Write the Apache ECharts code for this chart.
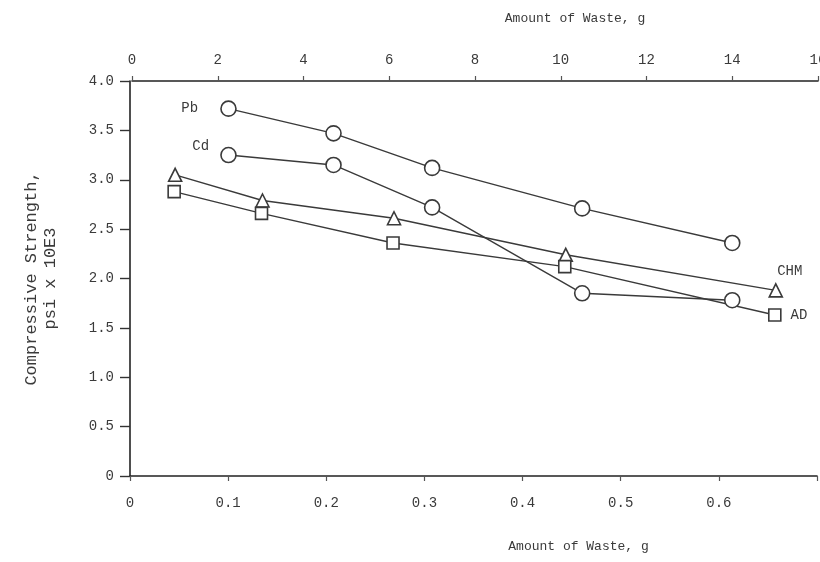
<!DOCTYPE html>
<html>
<head>
<meta charset="utf-8">
<script src="https://cdn.jsdelivr.net/npm/echarts@6/dist/echarts.min.js"></script>
<style>html,body{margin:0;padding:0;background:#fff}#c{width:820px;height:562px}</style>
</head>
<body>
<div id="c"></div>
<script>
// Upper scale (g), used by Pb and Cd
var topTicks = [0, 2, 4, 6, 8, 10, 12, 14, 16];
// Lower scale (g), used by CHM and AD
var bottomTicks = [0, 0.1, 0.2, 0.3, 0.4, 0.5, 0.6, 0.7];
var yTicks = [0, 0.5, 1.0, 1.5, 2.0, 2.5, 3.0, 3.5, 4.0];

var pbX = [2.25, 4.7, 7.0, 10.5, 14.0];
var pbY = [3.72, 3.47, 3.12, 2.71, 2.36];
var cdX = [2.25, 4.7, 7.0, 10.5, 14.0];
var cdY = [3.25, 3.15, 2.72, 1.85, 1.78];
var chmX = [0.046, 0.135, 0.269, 0.444, 0.658];
var chmY = [3.05, 2.79, 2.61, 2.24, 1.88];
var adX = [0.045, 0.134, 0.268, 0.443, 0.657];
var adY = [2.88, 2.66, 2.36, 2.12, 1.63];

var seriesNames = ['Pb', 'Cd', 'CHM', 'AD'];

function pairs(xs, ys) { return xs.map(function (x, i) { return [x, ys[i]]; }); }

var ink = '#3a3a3a';
var font = 'Liberation Mono';

var chart = echarts.init(document.getElementById('c'));

function mkSeries(name, xs, ys, gIdx, symbol, size, labelIdx, labelPos, labelOffset) {
  var data = pairs(xs, ys).map(function (p, i) {
    var d = { value: p };
    if (i === labelIdx) {
      d.label = { show: true, formatter: name, position: labelPos, offset: labelOffset,
        color: ink, fontFamily: font, fontSize: 14 };
    }
    return d;
  });
  return {
    name: name, type: 'line', xAxisIndex: gIdx, yAxisIndex: gIdx, data: data,
    symbol: symbol, symbolSize: size, showSymbol: true,
    lineStyle: { color: ink, width: 1.4 },
    itemStyle: { color: '#fff', borderColor: ink, borderWidth: 1.6 },
    label: { show: false },
    z: 3
  };
}

chart.setOption({
  animation: false,
  backgroundColor: '#fff',
  grid: [
    { left: 130, right: 3, top: 81, bottom: 86, outerBoundsMode: 'none', containLabel: false },
    { left: 132, right: 2, top: 81, bottom: 86, outerBoundsMode: 'none', containLabel: false }
  ],
  xAxis: [
    {
      gridIndex: 0, type: 'value', position: 'bottom', min: 0, max: 0.7, interval: 0.1,
      name: 'Amount of Waste, g', nameLocation: 'middle', nameGap: 64,
      nameTextStyle: { color: ink, fontFamily: font, fontSize: 13, padding: [0, 0, 0, 210] },
      axisLine: { show: true, onZero: false, lineStyle: { color: '#222', width: 1.6 } },
      axisTick: { show: true, inside: false, length: 5, lineStyle: { color: '#555', width: 1.2 } },
      axisLabel: { color: ink, fontFamily: font, fontSize: 14, margin: 20,
        formatter: function (v) { return v === 0 ? '0' : (Math.abs(v - 0.7) < 1e-6 ? '' : v.toFixed(1)); } },
      splitLine: { show: false }
    },
    {
      gridIndex: 1, type: 'value', position: 'top', min: 0, max: 16, interval: 2,
      name: 'Amount of Waste, g', nameLocation: 'middle', nameGap: 56,
      nameTextStyle: { color: ink, fontFamily: font, fontSize: 13, padding: [0, 0, 0, 200] },
      axisLine: { show: true, onZero: false, lineStyle: { color: '#222', width: 1.6 } },
      axisTick: { show: true, inside: false, length: 5, lineStyle: { color: '#555', width: 1.2 } },
      axisLabel: { color: ink, fontFamily: font, fontSize: 14, margin: 14 },
      splitLine: { show: false }
    }
  ],
  yAxis: [
    {
      gridIndex: 0, type: 'value', min: 0, max: 4, interval: 0.5,
      name: 'Compressive Strength,\npsi x 10E3', nameLocation: 'middle', nameGap: 70,
      nameRotate: 90,
      nameTextStyle: { color: ink, fontFamily: font, fontSize: 17, lineHeight: 19 },
      axisLine: { show: true, onZero: false, lineStyle: { color: '#222', width: 1.6 } },
      axisTick: { show: true, inside: false, length: 10, lineStyle: { color: '#333', width: 1.4 } },
      axisLabel: { color: ink, fontFamily: font, fontSize: 14, margin: 16,
        formatter: function (v) { return v === 0 ? '0' : v.toFixed(1); } },
      splitLine: { show: false }
    },
    {
      gridIndex: 1, type: 'value', min: 0, max: 4, interval: 0.5, show: false
    }
  ],
  series: [
    mkSeries(seriesNames[0], pbX, pbY, 1, 'circle', 15, 0, 'left', [-17, 0]),
    mkSeries(seriesNames[1], cdX, cdY, 1, 'circle', 15, 0, 'left', [-6, -9]),
    mkSeries(seriesNames[2], chmX, chmY, 0, 'triangle', 13, 4, 'top', [14, 0]),
    mkSeries(seriesNames[3], adX, adY, 0, 'rect', 12, 4, 'right', [4, 0])
  ]
});
</script>
</body>
</html>
